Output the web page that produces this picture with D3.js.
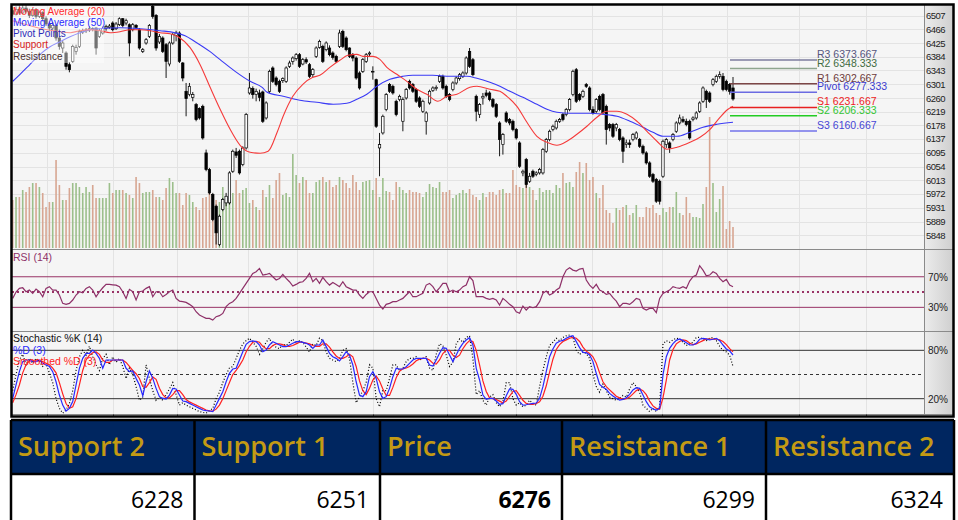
<!DOCTYPE html>
<html>
<head>
<meta charset="utf-8">
<script src="https://cdn.jsdelivr.net/npm/d3@7"></script>
<style>
  body { margin: 0; background: #fff; }
  svg { display: block; }
</style>
</head>
<body>
<svg id="chart"></svg>
<script>
// ---- data (one value per session) ----
const opens = [
  6522,6512,6526,6515,6530,6520,6508,6524,6505,6516, 6498,6482,6470,6478,6440,6410,6395,6360,6370,6400,
  6415,6458,6462,6464,6468,6470,6445,6455,6470,6472, 6485,6468,6480,6498,6485,6480,6465,6478,6465,6400,
  6425,6445,6535,6508,6428,6440,6420,6362,6425,6448, 6455,6365,6280,6270,6262,6240,6228,6235,6095,6045,
  5970,5935,5820,5925,5945,5945,6040,6098,6100,6060, 6110,6275,6288,6270,6275,6278,6200,6280,6350,6320,
  6310,6312,6310,6355,6370,6378,6390,6362,6375,6360, 6330,6385,6412,6415,6405,6410,6395,6385,6415,6460,
  6440,6410,6390,6380,6335,6340,6370,6392,6340,6315, 6110,6155,6225,6300,6295,6250,6255,6190,6260,6310,
  6300,6285,6260,6220,6190,6245,6282,6288,6310,6325, 6295,6270,6285,6305,6318,6325,6335,6400,6375,6265,
  6210,6260,6275,6275,6255,6240,6185,6120,6215,6195, 6190,6165,6125,6035,6075,6010,6040,6030,6035,6035,
  6100,6135,6165,6170,6190,6210,6210,6225,6270,6345, 6270,6265,6300,6290,6225,6220,6265,6270,6235,6180,
  6180,6170,6165,6140,6120,6125,6135,6140,6135,6115, 6095,6065,6030,6015,6010,6025,6120,6125,6135,6160,
  6185,6195,6190,6190,6195,6200,6220,6250,6280,6275, 6300,6310,6325,6325,6310,6300,6290
];
const closes = [
  6512,6526,6515,6530,6520,6508,6524,6505,6516,6498, 6482,6470,6478,6440,6415,6425,6355,6345,6415,6412,
  6460,6462,6464,6468,6466,6410,6462,6468,6475,6476, 6465,6482,6498,6478,6492,6425,6480,6472,6410,6405,
  6435,6478,6505,6410,6445,6400,6370,6425,6450,6455, 6370,6320,6258,6295,6270,6195,6200,6140,6045,5975,
  5895,5855,5905,5955,5965,6035,6100,6088,6035,6110, 6210,6290,6270,6280,6262,6190,6245,6340,6310,6300,
  6280,6318,6350,6365,6380,6390,6355,6375,6368,6325, 6345,6410,6430,6370,6425,6390,6382,6370,6455,6415,
  6405,6385,6380,6320,6290,6375,6390,6395,6340,6175, 6120,6205,6270,6280,6275,6210,6265,6255,6285,6290,
  6280,6250,6235,6250,6215,6280,6290,6292,6325,6290, 6265,6255,6305,6320,6330,6335,6380,6355,6330,6220,
  6240,6265,6268,6255,6235,6205,6135,6150,6190,6185, 6165,6140,6055,6040,6000,6025,6025,6035,6045,6105,
  6135,6160,6175,6190,6195,6195,6225,6255,6340,6250, 6255,6280,6295,6225,6215,6255,6225,6215,6165,6170,
  6145,6180,6135,6100,6125,6120,6150,6155,6115,6095, 6065,6025,6010,5950,5950,6130,6135,6110,6150,6185,
  6200,6190,6180,6140,6200,6215,6245,6290,6255,6250, 6315,6325,6330,6285,6285,6280,6257
];
const highs = [
  6532,6535,6538,6540,6545,6528,6530,6530,6522,6520, 6505,6490,6488,6482,6445,6432,6400,6368,6420,6420,
  6465,6468,6470,6475,6472,6472,6468,6475,6480,6482, 6490,6488,6502,6500,6498,6484,6485,6482,6470,6410,
  6440,6482,6545,6512,6452,6445,6425,6430,6456,6462, 6460,6368,6305,6305,6278,6245,6232,6240,6105,6050,
  5975,5940,5910,5960,5975,6040,6105,6110,6105,6115, 6215,6335,6295,6288,6285,6282,6250,6345,6355,6325,
  6315,6322,6355,6372,6385,6395,6395,6380,6382,6365, 6350,6415,6435,6420,6430,6418,6400,6390,6465,6465,
  6445,6412,6395,6385,6340,6380,6395,6400,6355,6318, 6155,6210,6275,6305,6300,6255,6270,6262,6290,6315,
  6305,6290,6265,6255,6220,6285,6295,6298,6330,6330, 6300,6275,6310,6325,6335,6340,6385,6410,6380,6270,
  6245,6275,6285,6280,6260,6245,6190,6155,6220,6200, 6195,6170,6130,6045,6080,6035,6045,6040,6050,6110,
  6140,6165,6180,6195,6200,6215,6230,6260,6345,6350, 6275,6285,6305,6295,6235,6260,6270,6275,6240,6185,
  6185,6185,6170,6145,6135,6135,6155,6160,6140,6120, 6100,6070,6035,6020,6015,6135,6140,6130,6155,6190,
  6210,6205,6198,6195,6205,6220,6250,6295,6285,6280, 6320,6330,6340,6335,6315,6305,6323
];
const lows = [
  6505,6508,6510,6512,6514,6500,6504,6498,6500,6490, 6476,6460,6462,6432,6405,6395,6345,6337,6365,6390,
  6410,6452,6455,6458,6460,6390,6440,6450,6462,6468, 6460,6464,6476,6472,6478,6385,6460,6466,6405,6395,
  6420,6440,6498,6402,6422,6395,6320,6355,6420,6430, 6365,6310,6205,6265,6250,6190,6195,6135,6040,5970,
  5890,5820,5815,5920,5935,5940,6035,6080,6030,6055, 6105,6270,6258,6250,6250,6185,6195,6275,6305,6295,
  6275,6305,6305,6350,6360,6372,6350,6358,6362,6320, 6322,6380,6408,6365,6400,6385,6375,6365,6410,6410,
  6400,6380,6370,6315,6285,6335,6365,6385,6315,6170, 6025,6150,6220,6275,6270,6205,6250,6160,6255,6285,
  6275,6245,6230,6215,6150,6240,6278,6282,6305,6285, 6260,6250,6280,6300,6312,6320,6330,6350,6325,6190,
  6200,6240,6262,6250,6230,6200,6085,6090,6185,6178, 6160,6135,6050,6025,5990,6005,6020,6025,6030,6030,
  6095,6130,6160,6165,6185,6190,6205,6220,6265,6245, 6250,6260,6290,6220,6210,6215,6220,6210,6120,6160,
  6140,6160,6130,6065,6110,6110,6130,6135,6110,6090, 6060,6020,6005,5945,5940,6020,6110,6095,6130,6155,
  6180,6185,6175,6135,6190,6195,6215,6245,6230,6245, 6295,6305,6318,6280,6280,6270,6252
];
const volumes = [
  48,51,51,58,56,61,65,65,61,55, 41,46,46,88,63,48,48,60,65,65, 61,55,61,56,63,50,50,50,50,65,
  55,58,58,58,55,53,50,71,65,55, 56,56,58,51,51,48,60,70,66,55, 55,43,55,53,46,41,38,50,51,55,
  41,48,46,61,48,48,55,68,55,58, 60,45,48,41,
  38,58,51,63,50,68,75,53,55,51, 94,73,65,71,68,55,55,66,68,71, 66,68,61,63,71,68,65,60,73,66,
  58,66,67,68,58,70,51,70,57,56, 48,66,61,58,55,58,56,56,55,51, 56,64,61,60,66,56,56,58,50,53,
  55,58,55,59,53,51,48,55,51,56, 56,53,
  58,59,55,55,78,63,61,60,75,61, 58,48,60,56,58,58,55,63,60,75, 65,66,61,76,86,75,85,68,71,55,
  50,63,38,35,25,40,38,41,43,33, 35,43,31,31,41,40,43,35,33,40, 36,41,41,56,35,33,51,35,31,31,
  30, 44,61,131,65,36,49,62,19,27,21
];

// moving averages: [session index, value]
const ma20 = [
  [0,6492],[10.3,6465],[14.2,6459],[17.2,6456],[20.2,6462],[23.2,6465],[26.2,6462],[29.2,6456],
  [32.2,6459],[35.2,6465],[38.2,6465],[41.2,6462],[44.2,6456],[47.2,6453],[49.6,6444],[53.2,6411],
  [56.2,6360],[59.2,6292],[62.2,6226],[65.2,6166],[68.2,6118],[71.2,6097],[74.2,6094],[76.6,6100],
  [79.3,6157],[81.1,6205],[84,6265],[87,6301],[90,6322],[92.1,6328],[95.1,6352],[98.1,6373],
  [100.5,6388],[103.2,6391],[105,6385],[108,6385],[110.1,6376],[112.2,6352],[115.2,6331],[118.2,6310],
  [121.2,6286],[124.2,6271],[127.5,6250],[130.2,6265],[133.2,6271],[137.1,6292],[139.2,6295],[143.1,6286],
  [146.1,6280],[148.2,6265],[151.2,6235],[154.2,6187],[157.2,6145],[160.2,6127],[163.2,6118],[166.2,6130],
  [169.2,6151],[172.2,6175],[175.2,6202],[178.2,6220],[181.2,6220],[184.2,6211],[187.2,6190],[190.2,6160],
  [193.2,6130],[196.2,6106],[199.2,6112],[203.1,6127],[206.1,6142],[209.1,6166],[212.1,6202],[214.5,6226],
  [216,6235]
];
const ma50 = [
  [0,6310],[2.2,6331],[5.2,6361],[8.2,6391],[11.2,6414],[14.2,6429],[17.2,6444],[20.2,6456],
  [23.2,6465],[26.2,6468],[32.2,6471],[38.2,6468],[44.2,6462],[48.7,6456],[51.7,6447],[54.7,6429],
  [59.2,6399],[62.2,6375],[66.7,6340],[71.2,6310],[74.8,6292],[76.3,6277],[81.1,6265],[86.1,6253],
  [91.2,6247],[96.1,6241],[100.2,6244],[103.2,6256],[106.2,6271],[109.2,6295],[113.1,6316],[117,6325],
  [120,6328],[126,6328],[131.1,6325],[136.2,6325],[139.2,6319],[143.1,6307],[146.1,6295],[149.1,6280],
  [153,6262],[157.2,6241],[160.2,6226],[163.2,6217],[167.1,6214],[173.1,6214],[177,6211],[181.2,6205],
  [185.1,6190],[189,6172],[192,6157],[195,6145],[199.2,6145],[203.1,6157],[207,6172],[211.2,6181],
  [216,6187]
];

const rsi = [
  41.7,50,54.8,55.6,50.4,52.6,48.3,53.9,50.4,43.9, 54.8,57,52.6,52.6,46.1,35.2,33.9,35.2,39.6,46.1,
  50.4,49.1,54.8,57,52.6,43.9,50.4,55.6,60,60, 59.5,59,57,50.4,41.7,53.5,50.4,39.6,50.4,51.3,
  54.8,57,43.9,50.4,50.4,43.9,46.9,50.4,52.6,41.7, 38.2,37.4,36.5,33.9,30.9,24.3,20,17.8,15.6,15.6,
  13.4,17.8,19.1,22.1,30.9,35.2,37.4,41.7,48.3,54.8, 61.3,67.8,74.4,76.5,80.9,72.2,73,74.4,70,65.7,
  67.8,73,67.8,63.5,57.8,60,62.6,63.5,67.8,74.4, 63.5,67.8,61.3,69.1,63.5,59.1,62.6,60,57,63.5,
  57,54.8,52.6,52.6,46.1,41.7,46.9,50.4,50.4,41.7, 33,27.8,33.9,35.2,37.4,37.4,39.6,41.7,46.1,50.4,
  43.9,43.9,46.1,48.3,59.1,61.3,57,50.4,55.6,61.3, 61.3,50.4,52.6,50.4,52.6,57,59.1,70,65,43.9,
  43.9,43.9,41.7,40.4,41.7,39.6,33,41.7,38.2,33.9, 30.9,24.3,22.2,31.7,26.5,30.9,29.5,30.9,37.4,48.3,
  51.3,46.1,48.3,52.6,55.6,70,78.7,81.7,78.7,77.4, 80,80.9,65.7,59.1,54.8,60,52.6,50.4,46.9,48.3,
  42.6,38.2,30.9,35.2,35.2,33.9,37.4,41.7,40.4,28.7, 26.5,28.7,28.7,23,41.7,48.3,50.4,52.6,57,55.6,
  54.8,57,54.8,64.3,70,72.2,84.4,78.7,71.3,72.2, 76.5,74.4,67.8,63.5,66.5,59.1,57
];

const stochK = [
  30,50,68,75,62,70,64,70,66,60, 63,52,40,20,8,2,6,14,30,55, 72,80,74,85,72,62,55,70,75,62,
  72,65,70,60,45,58,50,35,18,22, 62,45,30,18,22,18,25,32,40,25, 12,15,12,10,8,6,4,3,2,5,
  8,20,28,40,50,58,60,70,80,88, 92,95,90,85,75,82,90,95,86,84, 82,88,86,90,94,88,92,90,84,78,
  88,86,95,92,78,70,68,66,70,80, 82,70,40,15,22,30,40,62,58,20, 10,30,30,45,62,62,55,58,66,70,
  70,72,68,70,72,58,55,75,88,86, 74,60,65,88,94,90,96,98,70,25, 30,18,12,22,25,15,10,16,40,40,
  20,12,15,10,12,18,14,12,35,55, 72,86,90,95,92,96,98,99,96,80, 75,78,76,70,50,35,28,38,30,22,
  20,18,20,24,22,32,40,35,28,12, 8,4,8,4,10,88,92,90,93,95, 94,90,86,88,90,96,96,94,92,95,
  96,92,85,80,78,74,60
];
const stochD = [
  20.4,37,53.5,66,68,68,66,66,68,64, 62,60,53.5,41,24.5,12,4.7,8,16.5,37,
  57.7,70,76.3,76.3,80.4,76.3,70,57.7,68,68, 68,68,68,68,57.7,53.5,54.3,45.2,37,23.7,
  41,54.3,45.2,32.8,22.5,20.4,19.6,24.5,32.8,32, 24.5,17.1,16.3,14.2,12.1,10,8,5.9,5.1,4.7,
  3.9,12.1,20.4,28.7,41,51.4,56.8,57.7,68,78.3, 87.4,90.8,91.6,90.8,86.6,78.3,80.4,86.6,90.8,88.7,
  86.6,84.6,84.6,86.6,88.7,90.8,90.8,89.9,88.7,86.6, 82.5,86.6,86.6,92.8,84.6,76.3,72.1,70,66.8,72.1,
  78.3,74.2,61.8,41,24.5,22.5,28.7,47.3,53.5,45.2, 28.7,20.4,22.5,32.8,47.3,57.7,56.8,56.8,59.7,63.9,
  68,70,70,70,70,61.8,60.6,68,76.3,83.3, 82.5,74.2,66,74.2,82.5,88.7,92.8,95.7,86.6,57.7,
  43.2,24.5,19.2,20.4,20.4,17.1,13,13.8,23.7,32, 31.6,25.4,16.3,12.1,12.5,13.4,14.2,14.6,20.4,34.9,
  53.5,72.1,81.7,88.7,91.2,92.4,94.9,97,98.2,90.8, 83.3,77.5,77.1,74.2,66,51.4,37.8,34.1,31.6,26.6,
  23.3,20.4,18.3,19.2,21.2,25.4,30.8,33.7,32.8,24.5, 16.3,10,7.2,5.9,8,49.4,72.1,82.5,88.3,92.4,
  94.1,92,89.5,86.6,86.6,88.7,93.7,94.9,94.1,92.8, 93.7,94.9,92,86.6,81.7,79.2,74.2
];
const stochSmooth = [
  15,25,37,52,62,67,67,67,67,66, 64,62,58,52,40,26,14,8,10,20, 37,55,68,74,77,78,75,68,65,65,
  68,68,68,68,65,60,55,51,45,35, 34,40,47,44,33,25,21,21,25,30, 30,25,19,16,14,12,10,8,6,5,
  4.5,7,12,20,30,40,50,55,61,68, 78,85,90,91,90,85,82,82,86,88, 88,87,85,85,86,88,90,90,89,88,
  86,85,85,88,88,84,78,73,70,70, 72,75,72,60,42,30,25,33,43,48, 42,32,24,24,34,46,54,57,58,60,
  63,67,69,70,70,68,64,63,68,76, 80,80,74,71,74,82,88,92,91,80, 62,42,29,21,20,19,17,15,17,23,
  29,30,24,18,14,13,13,14,16,23, 36,53,69,81,87,91,93,95,96,95, 91,84,79,76,72,64,52,41,35,31,
  27,23,21,19,20,22,26,30,32,30, 25,17,11,8,7,21,43,68,81,88, 91,93,92,89,87,88,90,92,94,94,
  94,94,93,91,87,82,78
];

const priceTicks = [5848,5889,5931,5972,6013,6054,6095,6137,6178,6219,6260,6301,6343,6384,6425,6466,6507];
const monthBreaks = [10.3, 30.1, 49.3, 70.6, 85.3, 108, 130.2, 150.9, 173.7, 194.7, 214.2, 235.8, 255.9];
const pivotNames = ["R3", "R2", "R1", "Pivot", "S1", "S2", "S3"];
const pivotValues = [6373.667, 6348.333, 6302.667, 6277.333, 6231.667, 6206.333, 6160.667];
const legendNames = ["Moving Average (20)", "Moving Average (50)", "Pivot Points", "Support", "Resistance"];
const rsiLevels = [70, 30];
const stochLevels = [80, 20];
const tableHeads = ["Support 2", "Support 1", "Price", "Resistance 1", "Resistance 2"];
const tableValues = [6228, 6251, 6276, 6299, 6324];

// ---- styles ----
const font = "'Liberation Sans', Arial, sans-serif";
const tableFont = "'Open Sans', 'Noto Sans', sans-serif";
const pivotText = { R3: "#56567e", R2: "#3f6b3f", R1: "#6e3c3c", Pivot: "#3b3bd0", S1: "#ee2222", S2: "#33c633", S3: "#4646d6" };
const pivotLine = { R3: "#7d7d9e", R2: "#8ea58e", R1: "#7c4646", Pivot: "#6b6be2", S1: "#e82020", S2: "#22cc22", S3: "#7272ea" };
const legendColor = ["#ff2a2a", "#2a2aff", "#2a2ab8", "#d42222", "#4a3030"];

const W = 958, H = 520;
const frameL = 12, plotR = 924, frameR = 953, frameT = 5;
const priceBottom = 249, rsiBottom = 331, stochBottom = 414;

const svg = d3.select("#chart").attr("width", W).attr("height", H)
    .style("font-family", font);

const x = d3.scaleLinear().domain([0, 216]).range([12.7, 733]);
const yPrice = d3.scaleLinear().domain([5848, 6507]).range([235.2, 15.7]);
const yVol = d3.scaleLinear().domain([0, 100]).range([248, 148]);
const yRsi = d3.scaleLinear().domain([0, 100]).range([330.3, 253.8]);
const yStoch = d3.scaleLinear().domain([0, 100]).range([414.8, 334.2]);

// background
svg.append("rect").attr("x", 0).attr("y", 0).attr("width", W).attr("height", H).attr("fill", "#fff");
svg.append("rect").attr("x", frameL).attr("y", frameT).attr("width", plotR - frameL).attr("height", stochBottom - frameT)
    .attr("fill", "#f5f5f5");

const defs = svg.append("defs");
const grad = defs.append("linearGradient").attr("id", "axisGrad").attr("x1", 0).attr("x2", 1);
grad.append("stop").attr("offset", 0).attr("stop-color", "#ececec");
grad.append("stop").attr("offset", 1).attr("stop-color", "#cfcfcf");
svg.append("rect").attr("x", plotR).attr("y", frameT).attr("width", frameR - plotR).attr("height", stochBottom - frameT)
    .attr("fill", "url(#axisGrad)");

defs.append("clipPath").attr("id", "priceClip").append("rect")
    .attr("x", frameL).attr("y", frameT).attr("width", plotR - frameL).attr("height", priceBottom - frameT);

// grid
const grid = svg.append("g").attr("stroke", "#e3e3e3").attr("stroke-width", 1);
grid.selectAll(".hg").data(priceTicks).enter().append("line")
    .attr("x1", frameL).attr("x2", plotR)
    .attr("y1", d => Math.round(yPrice(d)) + 0.5).attr("y2", d => Math.round(yPrice(d)) + 0.5);
grid.selectAll(".vg").data(monthBreaks).enter().append("line")
    .attr("x1", d => Math.round(x(d)) + 0.5).attr("x2", d => Math.round(x(d)) + 0.5)
    .attr("y1", frameT).attr("y2", stochBottom);

// ---- price panel ----
const price = svg.append("g").attr("clip-path", "url(#priceClip)");
const idx = d3.range(closes.length);

price.selectAll(".vol").data(idx).enter().append("rect")
    .attr("x", i => x(i) - 0.8).attr("width", 1.6)
    .attr("y", i => yVol(volumes[i]))
    .attr("height", i => yVol(0) - yVol(volumes[i]))
    .attr("fill", i => closes[i] >= opens[i] ? "#9cbf8b" : "#d7a692");

price.selectAll(".wick").data(idx).enter().append("line")
    .attr("x1", i => x(i)).attr("x2", i => x(i))
    .attr("y1", i => yPrice(highs[i])).attr("y2", i => yPrice(lows[i]))
    .attr("stroke", "#000").attr("stroke-width", 0.9);

price.selectAll(".body").data(idx).enter().append("rect")
    .attr("x", i => x(i) - 1.2).attr("width", 2.4)
    .attr("y", i => yPrice(Math.max(opens[i], closes[i])))
    .attr("height", i => Math.max(0.8, Math.abs(yPrice(opens[i]) - yPrice(closes[i]))))
    .attr("fill", i => closes[i] >= opens[i] ? "#fff" : "#000")
    .attr("stroke", "#000").attr("stroke-width", 0.7);

const maLine = d3.line().x(d => x(d[0])).y(d => yPrice(d[1])).curve(d3.curveMonotoneX);
price.append("path").datum(ma50).attr("d", maLine).attr("fill", "none").attr("stroke", "#3a3af5").attr("stroke-width", 1.1);
price.append("path").datum(ma20).attr("d", maLine).attr("fill", "none").attr("stroke", "#f53a3a").attr("stroke-width", 1.1);

// pivot levels
const pStart = x(215.1), pEnd = x(241.2);
pivotNames.forEach(function (name, k) {
    const py = yPrice(pivotValues[k]);
    svg.append("line").attr("x1", pStart).attr("x2", pEnd).attr("y1", py).attr("y2", py)
        .attr("stroke", pivotLine[name]).attr("stroke-width", 1.5);
    svg.append("text").attr("x", pEnd).attr("y", py - 2)
        .attr("fill", pivotText[name]).style("font-size", "10.5px")
        .text(`${name} ${pivotValues[k].toFixed(3)}`);
});

// legend
svg.append("rect").attr("x", frameL).attr("y", frameT).attr("width", 92).attr("height", 58)
    .attr("fill", "#fff").attr("opacity", 0.45);
svg.selectAll(".legend").data(legendNames).enter().append("text")
    .attr("x", frameL + 1).attr("y", (d, k) => 14.5 + k * 11.3)
    .attr("fill", (d, k) => legendColor[k]).style("font-size", "10px")
    .text(d => d);

// price axis
svg.append("g").attr("transform", `translate(${plotR},0)`)
    .call(d3.axisRight(yPrice).tickValues(priceTicks).tickSize(0).tickPadding(2).tickFormat(d3.format("d")))
    .call(g => g.select(".domain").remove())
    .call(g => g.selectAll("text").style("font-size", "9.5px").style("letter-spacing", "-0.5px")
        .style("font-family", font).attr("fill", "#222"));

// ---- RSI panel ----
const rsiG = svg.append("g");
rsiG.selectAll(".lvl").data(rsiLevels).enter().append("line")
    .attr("x1", frameL).attr("x2", plotR).attr("y1", d => yRsi(d)).attr("y2", d => yRsi(d))
    .attr("stroke", "#993366").attr("stroke-width", 1);
rsiG.append("line").attr("x1", frameL).attr("x2", plotR).attr("y1", yRsi(50)).attr("y2", yRsi(50))
    .attr("stroke", "#993366").attr("stroke-width", 2).attr("stroke-dasharray", "2,3");
rsiG.append("path").datum(rsi)
    .attr("d", d3.line().x((d, i) => x(i)).y(d => yRsi(d)))
    .attr("fill", "none").attr("stroke", "#8e3068").attr("stroke-width", 1.2);
rsiG.append("text").attr("x", frameL + 1).attr("y", 261).attr("fill", "#8e3068").style("font-size", "10.5px").text("RSI (14)");
rsiG.selectAll(".lab").data(rsiLevels).enter().append("text")
    .attr("x", 928).attr("y", d => yRsi(d) + 4).attr("fill", "#222").style("font-size", "10px").text(d => d + "%");

// ---- Stochastic panel ----
const stG = svg.append("g");
stG.selectAll(".lvl").data(stochLevels).enter().append("line")
    .attr("x1", frameL).attr("x2", plotR).attr("y1", d => yStoch(d)).attr("y2", d => yStoch(d))
    .attr("stroke", "#333").attr("stroke-width", 1);
stG.append("line").attr("x1", frameL).attr("x2", plotR).attr("y1", yStoch(50)).attr("y2", yStoch(50))
    .attr("stroke", "#333").attr("stroke-width", 1).attr("stroke-dasharray", "3,3");
const stLine = d3.line().x((d, i) => x(i)).y(d => yStoch(d));
stG.append("path").datum(stochK).attr("d", stLine).attr("fill", "none")
    .attr("stroke", "#000").attr("stroke-width", 1.2).attr("stroke-dasharray", "1,2");
stG.append("path").datum(stochSmooth).attr("d", stLine).attr("fill", "none")
    .attr("stroke", "#ff2020").attr("stroke-width", 1.2);
stG.append("path").datum(stochD).attr("d", stLine).attr("fill", "none")
    .attr("stroke", "#2828ff").attr("stroke-width", 1.2);
stG.append("text").attr("x", frameL + 1).attr("y", 342).attr("fill", "#111").style("font-size", "10.5px").text("Stochastic %K (14)");
stG.append("text").attr("x", frameL + 1).attr("y", 353.7).attr("fill", "#2828ff").style("font-size", "10.5px").text("%D (3)");
stG.append("text").attr("x", frameL + 1).attr("y", 365).attr("fill", "#ff2020").style("font-size", "10.5px").text("Smoothed %D (3)");
stG.selectAll(".lab").data(stochLevels).enter().append("text")
    .attr("x", 928).attr("y", d => yStoch(d) + 4).attr("fill", "#222").style("font-size", "10px").text(d => d + "%");

// panel separators and frame
[priceBottom, rsiBottom, stochBottom].forEach(function (py) {
    svg.append("line").attr("x1", frameL).attr("x2", frameR).attr("y1", py + 0.5).attr("y2", py + 0.5)
        .attr("stroke", "#8a8a8a").attr("stroke-width", 1);
});
svg.append("line").attr("x1", plotR + 0.5).attr("x2", plotR + 0.5).attr("y1", frameT).attr("y2", stochBottom)
    .attr("stroke", "#8a8a8a");
svg.selectAll(".xt").data(monthBreaks).enter().append("line")
    .attr("x1", d => Math.round(x(d)) + 0.5).attr("x2", d => Math.round(x(d)) + 0.5)
    .attr("y1", stochBottom).attr("y2", stochBottom + 2).attr("stroke", "#555");
svg.append("rect").attr("x", frameL - 0.5).attr("y", frameT - 0.5).attr("width", frameR - frameL + 1).attr("height", 417 - frameT)
    .attr("fill", "none").attr("stroke", "#000").attr("stroke-width", 2.5);

// ---- level table ----
const cols = [11, 194.5, 380, 562, 766, 954];
const tTop = 420, tMid = 474, tBot = 521;
svg.append("rect").attr("x", cols[0]).attr("y", tTop).attr("width", cols[5] - cols[0]).attr("height", tMid - tTop)
    .attr("fill", "#002660");
const tb = svg.append("g").attr("stroke", "#000").attr("stroke-width", 2.5);
tb.append("line").attr("x1", cols[0]).attr("x2", cols[5]).attr("y1", tTop).attr("y2", tTop);
tb.append("line").attr("x1", cols[0]).attr("x2", cols[5]).attr("y1", tMid).attr("y2", tMid);
tb.selectAll(".cl").data(cols).enter().append("line")
    .attr("x1", d => d).attr("x2", d => d).attr("y1", tTop).attr("y2", tBot);

svg.selectAll(".th").data(tableHeads).enter().append("text")
    .attr("x", (d, k) => cols[k] + 7).attr("y", 455.5)
    .attr("fill", "#c39a14").style("font-family", tableFont).style("font-size", "27px").style("font-weight", 600)
    .text(d => d);
svg.selectAll(".tv").data(tableValues).enter().append("text")
    .attr("x", (d, k) => cols[k + 1] - 11).attr("y", 507.5).attr("text-anchor", "end")
    .attr("fill", "#000").style("font-family", tableFont).style("font-size", "23px")
    .style("font-weight", (d, k) => k === 2 ? "bold" : "normal")
    .text(d => d);
</script>
</body>
</html>
